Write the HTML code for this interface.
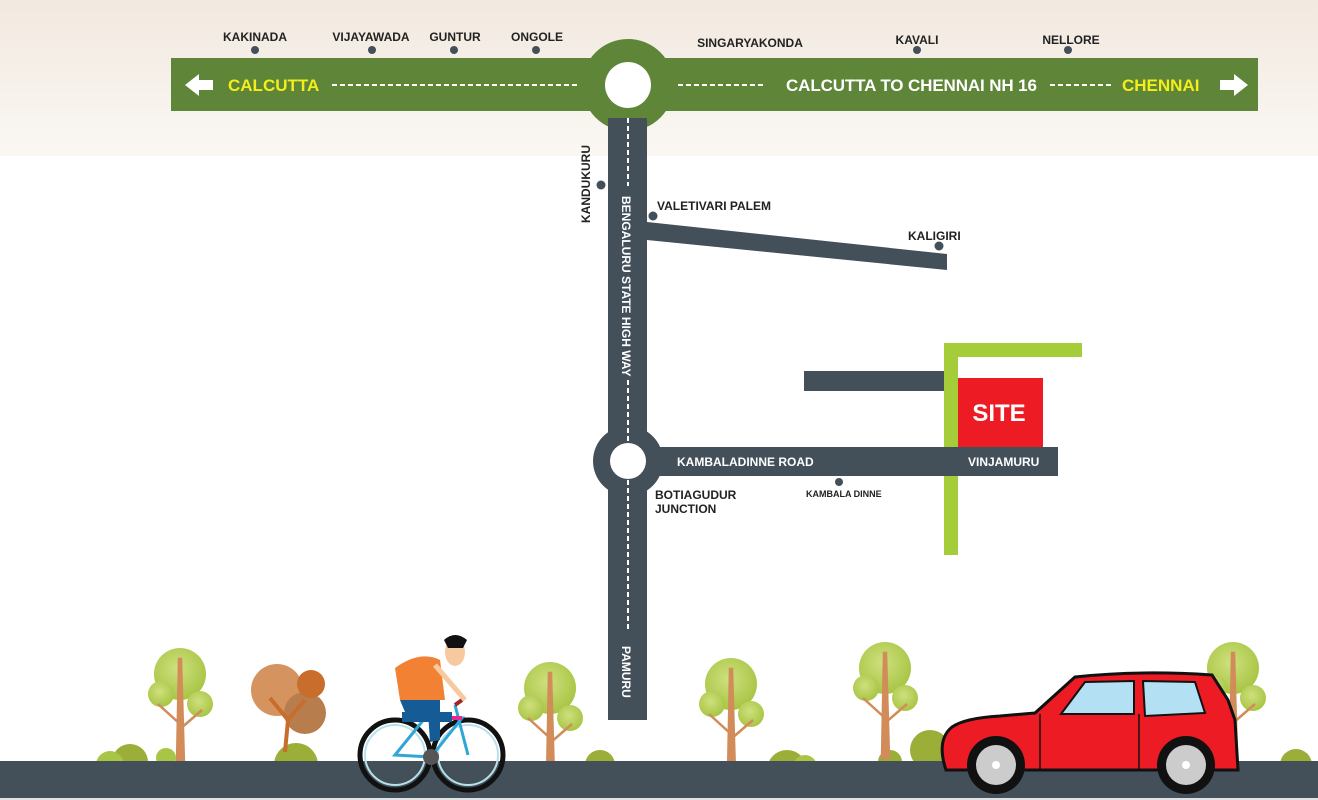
<!DOCTYPE html>
<html><head><meta charset="utf-8"><style>
html,body{margin:0;padding:0;background:#fff}
svg{display:block}
text{font-family:"Liberation Sans",Arial,sans-serif;font-weight:bold}
</style></head><body>
<svg width="1318" height="800" viewBox="0 0 1318 800" xmlns="http://www.w3.org/2000/svg">
<defs>
<linearGradient id="bg" x1="0" y1="0" x2="0" y2="1">
<stop offset="0" stop-color="#f2e9df"/><stop offset="1" stop-color="#faf7f3"/>
</linearGradient>
<radialGradient id="lf" cx="0.45" cy="0.4" r="0.6"><stop offset="0" stop-color="#cfe07e"/><stop offset="1" stop-color="#a8c545"/></radialGradient>
<g id="tree">
<circle cx="0" cy="0" r="26" fill="url(#lf)"/>
<circle cx="-19" cy="20" r="13" fill="url(#lf)"/>
<circle cx="20" cy="30" r="13" fill="url(#lf)"/>
<path d="M-3 90 L-1 -15 L1 -15 L4 90 Z M0 50 L-22 30 M0 55 L22 36" stroke="#d18c5a" stroke-width="2.5" fill="#d18c5a"/>
</g>
</defs>
<rect width="1318" height="156" fill="url(#bg)"/>
<!-- top road -->
<rect x="608" y="105" width="39" height="20" fill="#434f59"/>
<rect x="171" y="58" width="1087" height="53" fill="#5e8538"/>
<circle cx="628" cy="85" r="46" fill="#5e8538"/>
<circle cx="628" cy="85" r="23" fill="#fff"/>
<line x1="332" y1="85" x2="578" y2="85" stroke="#fff" stroke-width="2" stroke-dasharray="5,3"/>
<line x1="678" y1="85" x2="765" y2="85" stroke="#fff" stroke-width="2" stroke-dasharray="5,3"/>
<line x1="1050" y1="85" x2="1111" y2="85" stroke="#fff" stroke-width="2" stroke-dasharray="5,3"/>
<path d="M185 85 L199 74 L199 80 L213 80 L213 90 L199 90 L199 96 Z" fill="#fff"/>
<path d="M1248 85 L1234 74 L1234 80 L1220 80 L1220 90 L1234 90 L1234 96 Z" fill="#fff"/>
<text x="228" y="91" font-size="17" fill="#f4ef1a">CALCUTTA</text>
<text x="786" y="91" font-size="17" fill="#fff" textLength="251">CALCUTTA TO CHENNAI NH 16</text>
<text x="1122" y="91" font-size="17" fill="#f4ef1a">CHENNAI</text>
<g font-size="12" fill="#222" text-anchor="middle">
<text x="255" y="41">KAKINADA</text><text x="371" y="41">VIJAYAWADA</text><text x="455" y="41">GUNTUR</text><text x="537" y="41">ONGOLE</text>
<text x="750" y="47">SINGARYAKONDA</text><text x="917" y="44">KAVALI</text><text x="1071" y="44">NELLORE</text>
</g>
<g fill="#434f59">
<circle cx="255" cy="50" r="4"/><circle cx="372" cy="50" r="4"/><circle cx="454" cy="50" r="4"/><circle cx="536" cy="50" r="4"/>
<circle cx="917" cy="50" r="4"/><circle cx="1068" cy="50" r="4"/>
</g>
<!-- vertical road -->
<rect x="608" y="118" width="39" height="602" fill="#434f59"/>
<circle cx="628" cy="461" r="35" fill="#434f59"/>
<rect x="640" y="447" width="418" height="29" fill="#434f59"/>
<circle cx="628" cy="461" r="18" fill="#fff"/>
<g stroke="#fff" stroke-width="2" stroke-dasharray="5,3">
<line x1="628" y1="118" x2="628" y2="186"/><line x1="628" y1="380" x2="628" y2="442"/><line x1="628" y1="480" x2="628" y2="632"/>
</g>
<text transform="translate(622,196) rotate(90)" font-size="12" fill="#fff">BENGALURU STATE HIGH WAY</text>
<text transform="translate(622,646) rotate(90)" font-size="12" fill="#fff">PAMURU</text>
<text transform="translate(590,223) rotate(-90)" font-size="12" fill="#222">KANDUKURU</text>
<circle cx="601" cy="185" r="4.5" fill="#434f59"/>
<!-- valetivari road -->
<polygon points="647,222 947,254 947,270 647,240" fill="#434f59"/>
<circle cx="653" cy="216" r="4.5" fill="#434f59"/><text x="657" y="210" font-size="12" fill="#222">VALETIVARI PALEM</text>
<circle cx="939" cy="246" r="4.5" fill="#434f59"/><text x="908" y="240" font-size="12" fill="#222">KALIGIRI</text>
<!-- site area -->
<rect x="944" y="343" width="14" height="212" fill="#a4cd39"/>
<rect x="944" y="343" width="138" height="14" fill="#a4cd39"/>
<rect x="804" y="371" width="140" height="20" fill="#434f59"/>
<rect x="958" y="378" width="85" height="69" fill="#ed1c24"/>
<rect x="944" y="447" width="114" height="29" fill="#434f59"/>
<text x="999" y="421" font-size="24" fill="#fff" text-anchor="middle">SITE</text>
<text x="677" y="466" font-size="12" fill="#fff">KAMBALADINNE ROAD</text>
<text x="968" y="466" font-size="12" fill="#fff">VINJAMURU</text>
<circle cx="839" cy="482" r="4" fill="#434f59"/><text x="806" y="497" font-size="9" fill="#222">KAMBALA DINNE</text>
<text x="655" y="499" font-size="12" fill="#222">BOTIAGUDUR</text><text x="655" y="513" font-size="12" fill="#222">JUNCTION</text>
<!-- bushes -->
<g fill="#9aae38">
<circle cx="130" cy="762" r="18"/><circle cx="110" cy="765" r="14" fill="#a8c545"/><circle cx="166" cy="758" r="10" fill="#a8c545"/>
<circle cx="296" cy="765" r="22"/><circle cx="600" cy="765" r="15"/><circle cx="787" cy="770" r="20"/><circle cx="805" cy="767" r="12" fill="#a8c545"/>
<circle cx="890" cy="762" r="12"/><circle cx="930" cy="750" r="20"/><circle cx="1296" cy="765" r="16"/>
</g>
<use href="#tree" x="180" y="674"/>
<use href="#tree" x="550" y="688"/>
<use href="#tree" x="731" y="684"/>
<use href="#tree" x="885" y="668"/>
<use href="#tree" x="1233" y="668"/>
<!-- brown tree -->
<circle cx="277" cy="690" r="26" fill="#d5945f"/><circle cx="305" cy="713" r="21" fill="#b87d4d"/><circle cx="311" cy="684" r="14" fill="#c86d2b"/>
<path d="M285 752 L288 720 L270 698 M288 720 L305 700" stroke="#c86d2b" stroke-width="4" fill="none"/>
<!-- ground road -->
<rect x="0" y="761" width="1318" height="37" fill="#434f59"/>
<rect x="0" y="798" width="1318" height="2" fill="#dfe3e6"/>
<!-- bicycle -->
<g>
<circle cx="395" cy="755" r="35" fill="none" stroke="#111" stroke-width="5"/><circle cx="395" cy="755" r="30" fill="none" stroke="#b8e2ea" stroke-width="2"/>
<circle cx="468" cy="755" r="35" fill="none" stroke="#111" stroke-width="5"/><circle cx="468" cy="755" r="30" fill="none" stroke="#b8e2ea" stroke-width="2"/>
<path d="M395 755 L425 718 L462 718 L431 757 Z M468 755 L455 705" stroke="#2fa6d6" stroke-width="3" fill="none"/>
<line x1="412" y1="718" x2="462" y2="718" stroke="#e62a8e" stroke-width="4"/>
<circle cx="431" cy="757" r="8" fill="#555"/>
<path d="M455 705 L462 700" stroke="#a3262a" stroke-width="4"/>
<path d="M395 668 Q420 650 440 660 L445 700 L400 700 Z" fill="#f28134"/>
<path d="M400 700 L440 700 L440 740 L430 742 L428 712 L405 712 Z" fill="#155b96"/>
<rect x="402" y="712" width="50" height="10" fill="#155b96"/>
<ellipse cx="455" cy="652" rx="10" ry="14" fill="#f7c9a0"/>
<path d="M444 640 Q455 630 467 640 L463 648 L448 648 Z" fill="#111"/>
<path d="M435 665 L465 700" stroke="#f7c9a0" stroke-width="5"/>
</g>
<!-- car -->
<g>
<path d="M946 770 Q936 740 952 727 Q965 718 1000 716 L1035 713 L1075 677 Q1140 670 1212 675 L1228 700 L1235 720 L1238 770 Z" fill="#ed1c24" stroke="#111" stroke-width="3"/>
<path d="M1061 714 L1085 682 L1134 681 L1134 714 Z" fill="#b3e0f2" stroke="#111" stroke-width="2"/>
<path d="M1143 681 L1195 682 L1205 713 L1145 716 Z" fill="#b3e0f2" stroke="#111" stroke-width="2"/>
<line x1="1040" y1="714" x2="1040" y2="770" stroke="#111" stroke-width="1.5"/>
<line x1="1139" y1="714" x2="1139" y2="770" stroke="#111" stroke-width="1.5"/>
<circle cx="996" cy="765" r="29" fill="#111"/><circle cx="996" cy="765" r="20" fill="#ccc"/><circle cx="996" cy="765" r="4" fill="#fff"/>
<circle cx="1186" cy="765" r="29" fill="#111"/><circle cx="1186" cy="765" r="20" fill="#ccc"/><circle cx="1186" cy="765" r="4" fill="#fff"/>
</g>
</svg>
</body></html>
